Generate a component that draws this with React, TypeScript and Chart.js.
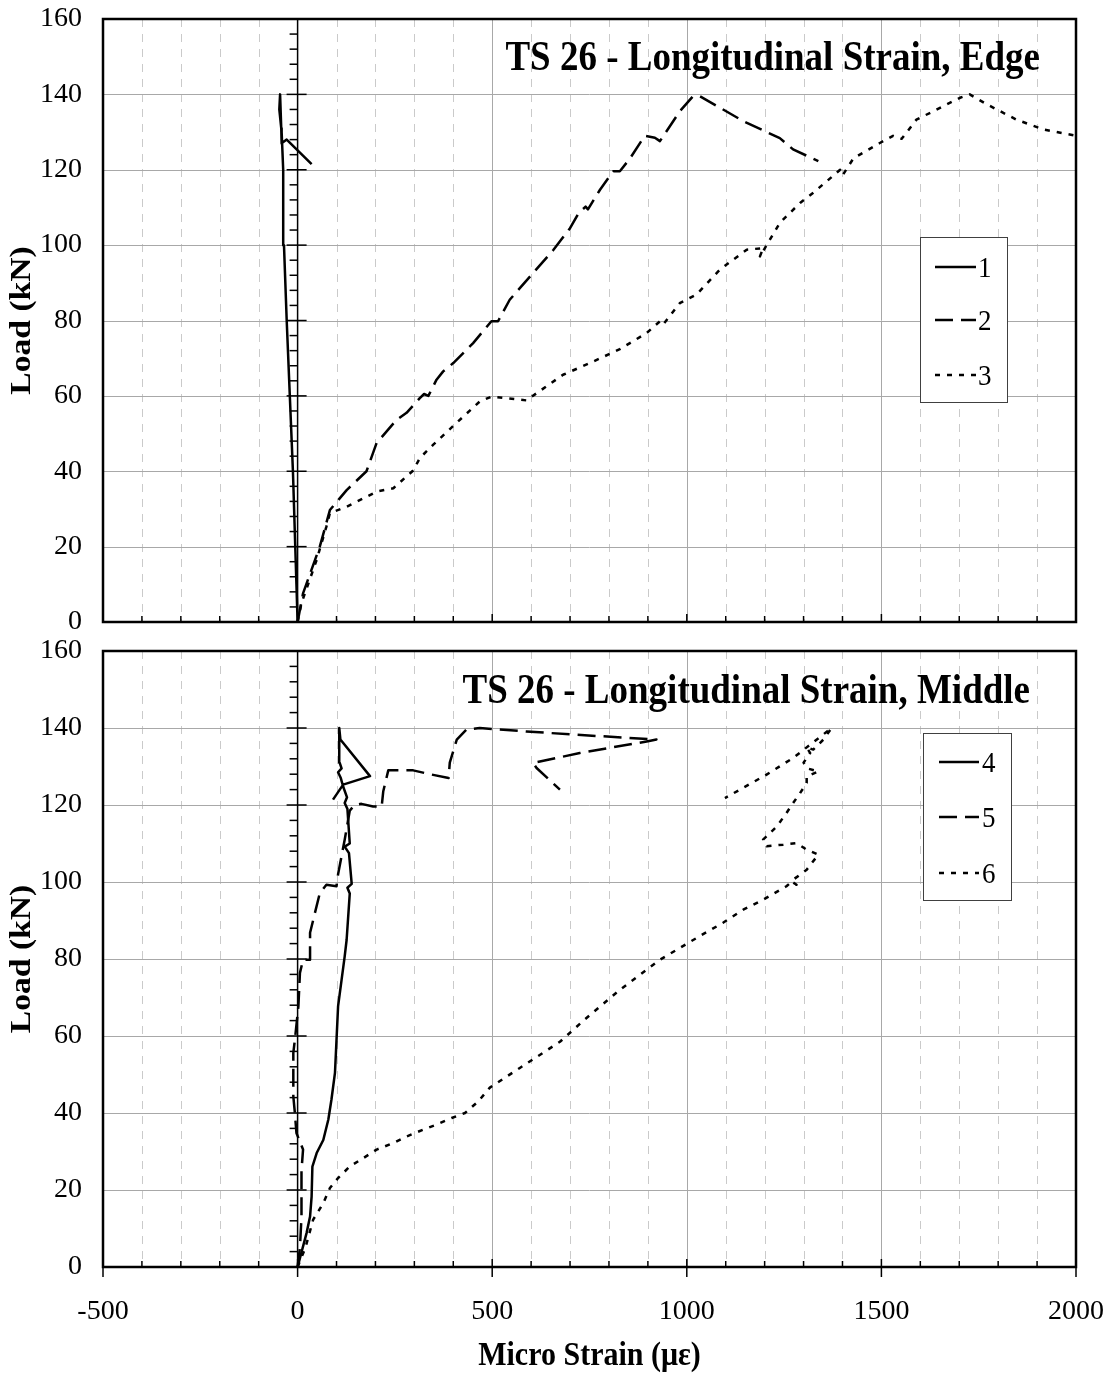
import React, { useEffect, useRef } from "react";
import { Chart, registerables } from "chart.js";

Chart.register(...registerables);

// ---------- axis definitions ----------
const X_MIN = -500;
const X_MAX = 2000;
const X_STEP = 500;
const X_MINOR = 100;
const Y_MIN = 0;
const Y_MAX = 160;
const Y_STEP = 20;
const Y_MINOR = 4;

const Y_TITLE = "Load (kN)";
const X_TITLE = "Micro Strain (\u03BC\u03B5)";
const TOP_TITLE = "TS 26 - Longitudinal Strain, Edge";
const BOTTOM_TITLE = "TS 26 - Longitudinal Strain, Middle";

// ---------- data: Edge (gauges 1-3) ----------
const g1Strain = [0, -3, -6, -12, -20, -28, -35, -37, -39, -41, -47, -45, -42, -41, -28, 36];
const g1Load = [0, 10, 20, 40, 60, 80, 100, 120, 125, 130, 136, 140, 131, 127, 128, 121.5];

const g2Strain = [0, 14, 57, 83, 126, 177, 203, 254, 280, 314, 325, 336, 357, 374, 400, 451, 498, 515, 545, 605, 657, 700, 722, 740, 746, 777, 811, 828, 854, 892, 918, 931, 982, 1016, 1034, 1145, 1239, 1273, 1338];
const g2Load = [0, 7.6, 20, 29.7, 35, 40, 47.5, 53.6, 55.5, 59.4, 60.5, 60, 64.3, 66.5, 68.7, 74, 79.8, 79.8, 85.5, 92.6, 98.7, 104.5, 108.5, 110.2, 109.5, 114.7, 119.6, 119.6, 123, 129, 128.5, 127.6, 135.5, 139.5, 139.5, 132.9, 128.4, 125.4, 122.3];

const g3Strain = [0, 10, 49, 74, 83, 126, 169, 203, 246, 297, 314, 348, 408, 468, 498, 588, 614, 682, 751, 828, 897, 931, 939, 982, 1025, 1085, 1154, 1196, 1188, 1239, 1291, 1325, 1394, 1400, 1428, 1496, 1530, 1552, 1590, 1633, 1702, 1727, 1770, 1847, 1916, 1997];
const g3Load = [0, 5, 16.5, 25.3, 28.9, 30.6, 32.8, 34.6, 35.5, 40.2, 43.5, 47, 52.8, 58.5, 59.8, 58.8, 60.7, 65.6, 68.7, 72.4, 76.7, 79.8, 78.9, 84.6, 86.9, 93.5, 98.8, 99.2, 97, 105.9, 111.2, 113.9, 120, 118.5, 123, 127.1, 129, 128.2, 133.3, 135.5, 139.1, 140, 137.4, 133.3, 130.7, 129.1];

// ---------- data: Middle (gauges 4-6) ----------
const g4Strain = [0, 23, 32, 36, 38, 49, 66, 79, 87, 96, 100, 104, 113, 121, 126, 134, 128, 139, 132, 121, 134, 128, 121, 127, 117, 111, 104, 113, 108, 107, 110, 186, 117, 91];
const g4Load = [0, 8.8, 13.1, 18.3, 26.1, 29.6, 33, 38.3, 43.5, 50.4, 59, 67.7, 74.6, 80.7, 85, 97, 98.5, 99.5, 107.5, 109.2, 110, 119, 120.5, 122, 124.8, 127, 128.5, 129.5, 131, 140, 137, 127.5, 125.3, 121.4];

const g5Strain = [0, 6, 10, 10, 14, -3, -7, -11, -11, -7, 2, 6, 14, 32, 32, 57, 74, 100, 104, 121, 134, 146, 164, 194, 216, 220, 233, 262, 297, 340, 388, 391, 409, 434, 468, 588, 708, 922, 897, 725, 605, 614, 674];
const g5Load = [0, 5, 13, 25, 30.5, 34.8, 40, 44.3, 55.6, 59, 67.7, 76.4, 79.8, 79.8, 86.8, 97.1, 99.3, 98.9, 102, 111, 118.5, 120, 120.3, 119.6, 119.6, 123.5, 129, 129, 129, 128, 127, 131, 137, 139.6, 140, 139.1, 138.3, 137, 136.5, 133.5, 130.9, 129.6, 124];

const g6Strain = [0, 20, 40, 66, 83, 104, 134, 169, 203, 246, 280, 323, 357, 396, 430, 464, 494, 571, 674, 738, 828, 931, 1034, 1093, 1145, 1196, 1256, 1265, 1282, 1268, 1308, 1338, 1308, 1282, 1248, 1205, 1196, 1231, 1256, 1273, 1291, 1308, 1308, 1338, 1310, 1300, 1317, 1308, 1325, 1351, 1372, 1273, 1205, 1098];
const g6Load = [0, 5, 12.3, 16.6, 20.5, 23.1, 26.1, 28.3, 30.5, 32.2, 33.9, 35.7, 37, 38.7, 40, 43, 46.6, 51.7, 58.5, 64.3, 72, 79.8, 86, 89.4, 92.8, 95.4, 98.9, 99.7, 99.3, 100.2, 103.2, 107.1, 108.4, 110.1, 109.7, 109.3, 111, 114.4, 117.9, 120.5, 123.1, 125.7, 127.4, 128.7, 129.5, 131, 133.5, 135, 134.4, 137, 140, 132.2, 127.9, 121.8];

// ---------- styles ----------
const SOLID: number[] = [];
const LONG_DASH = [18, 8];
const SHORT_DASH = [5, 7];
const SERIF = '"Liberation Serif", "Times New Roman", serif';
const SY = 1.12; // vertical text stretch of the original figure

type Series = { label: string; strain: number[]; load: number[]; dash: number[] };

const TOP_SERIES: Series[] = [
  { label: "1", strain: g1Strain, load: g1Load, dash: SOLID },
  { label: "2", strain: g2Strain, load: g2Load, dash: LONG_DASH },
  { label: "3", strain: g3Strain, load: g3Load, dash: SHORT_DASH },
];
const BOTTOM_SERIES: Series[] = [
  { label: "4", strain: g4Strain, load: g4Load, dash: SOLID },
  { label: "5", strain: g5Strain, load: g5Load, dash: LONG_DASH },
  { label: "6", strain: g6Strain, load: g6Load, dash: SHORT_DASH },
];

type Panel = {
  series: Series[];
  title: string;
  titleRight: number;
  titleBaseline: number;
  legend: { l: number; t: number; r: number; b: number; rows: number[]; x0: number; x1: number; tx: number };
  padding: { top: number; right: number; bottom: number; left: number };
  showX: boolean;
  xAxisHeight: number;
};

function drawText(
  ctx: CanvasRenderingContext2D,
  text: string,
  x: number,
  y: number,
  size: number,
  bold: boolean,
  align: CanvasTextAlign,
  baseline: CanvasTextBaseline,
  rotate = false
) {
  ctx.save();
  ctx.translate(x, y);
  ctx.scale(1, SY);
  if (rotate) ctx.rotate(-Math.PI / 2);
  ctx.font = `${bold ? "bold " : ""}${size}px ${SERIF}`;
  ctx.fillStyle = "#000";
  ctx.textAlign = align;
  ctx.textBaseline = baseline;
  ctx.fillText(text, 0, 0);
  ctx.restore();
}

function line(ctx: CanvasRenderingContext2D, x0: number, y0: number, x1: number, y1: number) {
  ctx.beginPath();
  ctx.moveTo(x0, y0);
  ctx.lineTo(x1, y1);
  ctx.stroke();
}

function decorPlugin(panel: Panel) {
  return {
    id: "decor",
    beforeDatasetsDraw(chart: any) {
      const { ctx, chartArea: a, scales } = chart;
      const xs = scales.x;
      const ys = scales.y;
      ctx.save();
      ctx.lineWidth = 1;
      // vertical grid
      for (let v = X_MIN + X_MINOR; v < X_MAX; v += X_MINOR) {
        if (v === 0) continue;
        const px = Math.round(xs.getPixelForValue(v)) + 0.5;
        if (v % X_STEP === 0) {
          ctx.setLineDash([]);
          ctx.strokeStyle = "#a8a8a8";
        } else {
          ctx.setLineDash([8, 7]);
          ctx.strokeStyle = "#cacaca";
        }
        line(ctx, px, a.top, px, a.bottom);
      }
      // horizontal grid
      ctx.setLineDash([]);
      ctx.strokeStyle = "#a8a8a8";
      for (let v = Y_MIN + Y_STEP; v < Y_MAX; v += Y_STEP) {
        const py = Math.round(ys.getPixelForValue(v)) + 0.5;
        line(ctx, a.left, py, a.right, py);
      }
      // zero strain axis with ticks
      const zx = xs.getPixelForValue(0);
      ctx.strokeStyle = "#000";
      ctx.lineWidth = 1.5;
      line(ctx, zx, a.top, zx, a.bottom);
      for (let v = Y_MIN + Y_MINOR; v < Y_MAX; v += Y_MINOR) {
        const py = ys.getPixelForValue(v);
        if (v % Y_STEP === 0) line(ctx, zx - 11, py, zx + 9, py);
        else line(ctx, zx - 8, py, zx, py);
      }
      ctx.restore();
    },
    afterDatasetsDraw(chart: any) {
      const { ctx, chartArea: a, scales } = chart;
      const xs = scales.x;
      ctx.save();
      // bottom axis ticks
      ctx.strokeStyle = "#000";
      ctx.lineWidth = 1.5;
      for (let v = X_MIN; v <= X_MAX; v += X_MINOR) {
        const px = xs.getPixelForValue(v);
        if (v % X_STEP === 0) line(ctx, px, a.bottom - 8, px, a.bottom + (panel.showX ? 10 : 0));
        else line(ctx, px, a.bottom - 6, px, a.bottom);
      }
      // frame
      ctx.lineWidth = 2.5;
      ctx.strokeRect(a.left, a.top, a.right - a.left, a.bottom - a.top);
      // title
      drawText(ctx, panel.title, panel.titleRight, panel.titleBaseline, 37, true, "right", "alphabetic");
      // legend
      const L = panel.legend;
      ctx.fillStyle = "#fff";
      ctx.fillRect(L.l, L.t, L.r - L.l, L.b - L.t);
      ctx.strokeStyle = "#404040";
      ctx.lineWidth = 1;
      ctx.strokeRect(L.l + 0.5, L.t + 0.5, L.r - L.l, L.b - L.t);
      panel.series.forEach((s, i) => {
        const ry = L.rows[i];
        ctx.strokeStyle = "#000";
        ctx.lineWidth = 2.5;
        ctx.setLineDash(s.dash);
        line(ctx, L.x0, ry, L.x1, ry);
        ctx.setLineDash([]);
        drawText(ctx, s.label, L.tx, ry + 10, 27, false, "left", "alphabetic");
      });
      // axis titles
      drawText(ctx, Y_TITLE, 22, (a.top + a.bottom) / 2, 30, true, "center", "middle", true);
      if (panel.showX) {
        drawText(ctx, X_TITLE, (a.left + a.right) / 2, a.bottom + 98, 30, true, "center", "alphabetic");
      }
      ctx.restore();
    },
  };
}

const TOP_PANEL: Panel = {
  series: TOP_SERIES,
  title: TOP_TITLE,
  titleRight: 1040,
  titleBaseline: 70,
  legend: { l: 920, t: 237, r: 1007, b: 402, rows: [267, 320, 375], x0: 935, x1: 976, tx: 978 },
  padding: { top: 19, right: 39, bottom: 18, left: 0 },
  showX: false,
  xAxisHeight: 0,
};

const BOTTOM_TOP = 636;
const BOTTOM_PANEL: Panel = {
  series: BOTTOM_SERIES,
  title: BOTTOM_TITLE,
  titleRight: 1030,
  titleBaseline: 703 - BOTTOM_TOP,
  legend: {
    l: 923,
    t: 733 - BOTTOM_TOP,
    r: 1011,
    b: 900 - BOTTOM_TOP,
    rows: [762 - BOTTOM_TOP, 817 - BOTTOM_TOP, 873 - BOTTOM_TOP],
    x0: 939,
    x1: 979,
    tx: 982,
  },
  padding: { top: 15, right: 39, bottom: 0, left: 0 },
  showX: true,
  xAxisHeight: 107,
};

function buildChart(canvas: HTMLCanvasElement, panel: Panel) {
  return new Chart(canvas, {
    type: "line",
    data: {
      datasets: panel.series.map((s) => ({
        label: s.label,
        data: s.strain.map((x, i) => ({ x, y: s.load[i] })),
        borderColor: "#000",
        backgroundColor: "#000",
        borderWidth: 2.5,
        borderDash: s.dash,
        borderJoinStyle: "round" as const,
        pointRadius: 0,
        pointHoverRadius: 0,
        tension: 0,
        fill: false,
      })),
    },
    options: {
      animation: false,
      responsive: false,
      devicePixelRatio: 1,
      events: [],
      layout: { padding: panel.padding },
      plugins: {
        legend: { display: false },
        tooltip: { enabled: false },
        title: { display: false },
      },
      scales: {
        x: {
          type: "linear",
          min: X_MIN,
          max: X_MAX,
          display: panel.showX,
          grid: { display: false, drawTicks: false },
          border: { display: false },
          ticks: {
            stepSize: X_STEP,
            autoSkip: false,
            maxRotation: 0,
            padding: 31,
            color: "#000",
            font: { family: SERIF, size: 28, lineHeight: 1 },
            callback: (v: any) => String(v),
          },
          afterFit: (s: any) => {
            s.height = panel.xAxisHeight;
            s.paddingLeft = 0;
            s.paddingRight = 0;
            s.paddingTop = 0;
            s.paddingBottom = 0;
          },
        },
        y: {
          type: "linear",
          min: Y_MIN,
          max: Y_MAX,
          grid: { display: false, drawTicks: false },
          border: { display: false },
          ticks: {
            stepSize: Y_STEP,
            padding: 21,
            color: "#000",
            font: { family: SERIF, size: 28, lineHeight: 1 },
            callback: (v: any) => String(v),
          },
          afterFit: (s: any) => {
            s.width = 103;
            s.paddingLeft = 0;
            s.paddingRight = 0;
            s.paddingTop = 0;
            s.paddingBottom = 0;
          },
        },
      },
    } as any,
    plugins: [decorPlugin(panel)],
  });
}

export default function App() {
  const topRef = useRef<HTMLCanvasElement>(null);
  const botRef = useRef<HTMLCanvasElement>(null);

  useEffect(() => {
    const c1 = buildChart(topRef.current!, TOP_PANEL);
    const c2 = buildChart(botRef.current!, BOTTOM_PANEL);
    return () => {
      c1.destroy();
      c2.destroy();
    };
  }, []);

  return (
    <div style={{ position: "absolute", left: 0, top: 0, width: 1115, height: 1374, background: "#fff" }}>
      <canvas
        ref={topRef}
        width={1115}
        height={640}
        style={{ position: "absolute", left: 0, top: 0, width: 1115, height: 640 }}
      />
      <canvas
        ref={botRef}
        width={1115}
        height={1374 - BOTTOM_TOP}
        style={{ position: "absolute", left: 0, top: BOTTOM_TOP, width: 1115, height: 1374 - BOTTOM_TOP }}
      />
    </div>
  );
}
